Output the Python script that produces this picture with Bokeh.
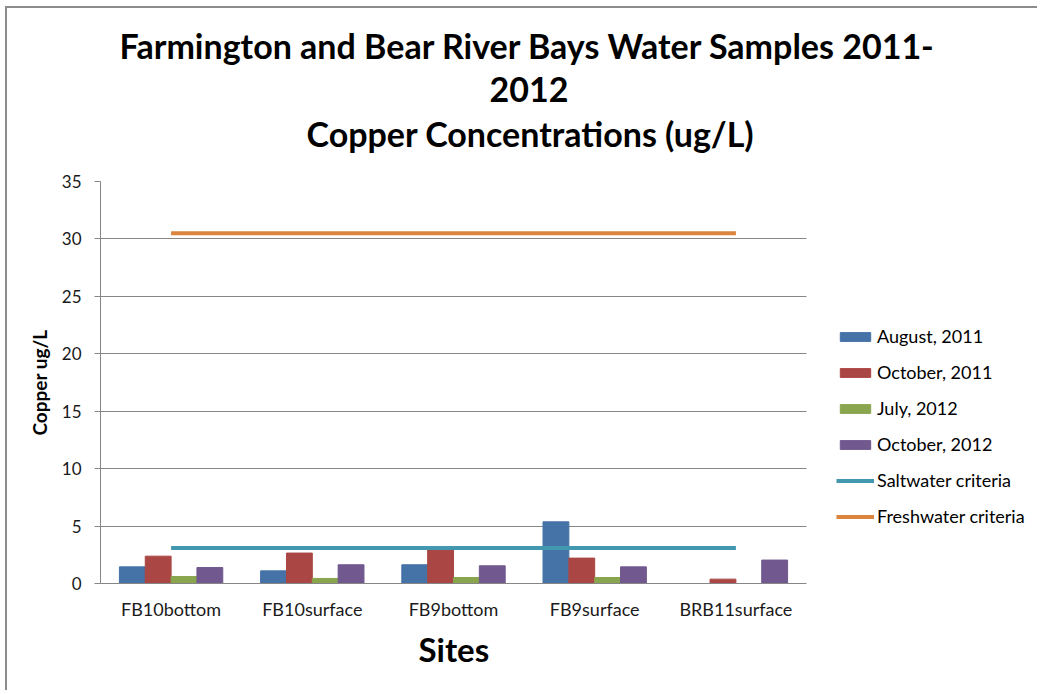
from bokeh.plotting import figure
from bokeh.models import (Range1d, Legend, LegendItem, Title, Grid,
                          ColumnDataSource, FixedTicker)
from bokeh.transform import dodge
from bokeh.embed import file_html
from bokeh.resources import INLINE

nan = float("nan")

sites = ["FB10bottom", "FB10surface", "FB9bottom", "FB9surface", "BRB11surface"]
aug_2011 = [1.45, 1.10, 1.63, 5.37, nan]
oct_2011 = [2.38, 2.65, 2.99, 2.21, 0.38]
jul_2012 = [0.61, 0.44, 0.52, 0.52, nan]
oct_2012 = [1.39, 1.63, 1.54, 1.45, 2.04]
saltwater_criteria = [3.1, 3.1, 3.1, 3.1, 3.1]
freshwater_criteria = [30.5, 30.5, 30.5, 30.5, 30.5]
y_ticks = [0, 5, 10, 15, 20, 25, 30, 35]

title_lines = ["Farmington and Bear River Bays Water Samples 2011-", "2012",
               "Copper Concentrations (ug/L)"]
x_title = "Sites"
y_title = "Copper ug/L"
series_names = ["August, 2011", "October, 2011", "July, 2012", "October, 2012"]
series_cols = ["aug11", "oct11", "jul12", "oct12"]
series_colors = ["#4572A7", "#AA4643", "#89A54E", "#71588F"]
salt_color = "#4198AF"
fresh_color = "#DB843D"

FONT = "Lato"
GRID = "#868686"

n = len(sites)
x_pos = [i + 0.5 for i in range(n)]

src = ColumnDataSource(dict(x=x_pos, aug11=aug_2011, oct11=oct_2011,
                            jul12=jul_2012, oct12=oct_2012,
                            salt=saltwater_criteria, fresh=freshwater_criteria))

# frame spans the category area (706 px) plus the legend area to its right
cat_area_px = 706
frame_px = 939
p = figure(x_range=Range1d(0, n * frame_px / cat_area_px),
           y_range=Range1d(0, 35),
           width=1032, height=684,
           output_backend="svg", toolbar_location=None, title=None,
           min_border_left=93, min_border_right=0,
           min_border_top=173, min_border_bottom=109)
p.styles = {"margin-left": "5px", "margin-top": "6px",
            "border-left": "2px solid #8c8c8c", "border-top": "2px solid #8c8c8c"}

# gap between the title block and the plot area
p.add_layout(Title(text=" ", text_font_size="1px", standoff=20), "above")
# titles (first added is closest to the frame), left aligned with offsets
title_offsets = [19, 389, 206]
for txt, off in reversed(list(zip(title_lines, title_offsets))):
    p.add_layout(Title(text=txt, align="left", offset=off,
                       text_font=FONT, text_font_size="34px",
                       text_font_style="bold", text_color="#000000",
                       standoff=9), "above")

bw = 0.183
offsets = [-1.5 * bw, -0.5 * bw, 0.5 * bw, 1.5 * bw]
items = []
for name, col, color, off in zip(series_names, series_cols, series_colors, offsets):
    r = p.vbar(x=dodge("x", off), top=col, width=bw,
               source=src, fill_color=color, line_color=color)
    items.append(LegendItem(label=name, renderers=[r]))

rs = p.line(x="x", y="salt", source=src, line_width=4, line_color=salt_color)
rf = p.line(x="x", y="fresh", source=src, line_width=4, line_color=fresh_color)
items.append(LegendItem(label="Saltwater criteria", renderers=[rs]))
items.append(LegendItem(label="Freshwater criteria", renderers=[rf]))

legend = Legend(items=items, location=(736, 56), glyph_width=38, glyph_height=11,
                label_text_font=FONT, label_text_font_size="18px",
                label_text_color="#000000", label_standoff=3,
                label_height=22, spacing=14, padding=0, margin=0,
                border_line_color=None, background_fill_alpha=0)
p.add_layout(legend)

p.outline_line_color = None
p.xgrid.grid_line_color = None
p.ygrid.grid_line_color = GRID
p.ygrid.grid_line_width = 1
p.ygrid.ticker = FixedTicker(ticks=y_ticks)
if "cross_bounds" in Grid.properties():
    p.ygrid.cross_bounds = (0, n)

p.yaxis.ticker = FixedTicker(ticks=y_ticks)
p.yaxis.axis_line_color = GRID
p.yaxis.major_tick_line_color = GRID
p.yaxis.major_tick_out = 6
p.yaxis.major_tick_in = 0
p.yaxis.minor_tick_line_color = None
p.yaxis.major_label_standoff = 13
p.yaxis.major_label_text_font = FONT
p.yaxis.major_label_text_font_size = "17px"
p.yaxis.major_label_text_color = "#1a1a1a"
p.yaxis.axis_label = y_title
p.yaxis.axis_label_text_font = FONT
p.yaxis.axis_label_text_font_size = "19px"
p.yaxis.axis_label_text_font_style = "bold"
p.yaxis.axis_label_text_color = "#000000"
p.yaxis.axis_label_standoff = 8

p.xaxis.ticker = FixedTicker(ticks=x_pos)
p.xaxis.major_label_overrides = {x: s for x, s in zip(x_pos, sites)}
p.xaxis.bounds = (0, n)
p.xaxis.axis_line_color = GRID
p.xaxis.major_tick_line_color = None
p.xaxis.minor_tick_line_color = None
p.xaxis.major_tick_out = 0
p.xaxis.major_tick_in = 0
p.xaxis.major_label_standoff = 14
p.xaxis.major_label_text_font = FONT
p.xaxis.major_label_text_font_size = "18px"
p.xaxis.major_label_text_color = "#1a1a1a"

p.add_layout(Title(text=x_title, align="left", offset=318,
                   text_font=FONT, text_font_size="33px",
                   text_font_style="bold", text_color="#000000",
                   standoff=9), "below")

open("out.html", "w").write(file_html(p, INLINE))
